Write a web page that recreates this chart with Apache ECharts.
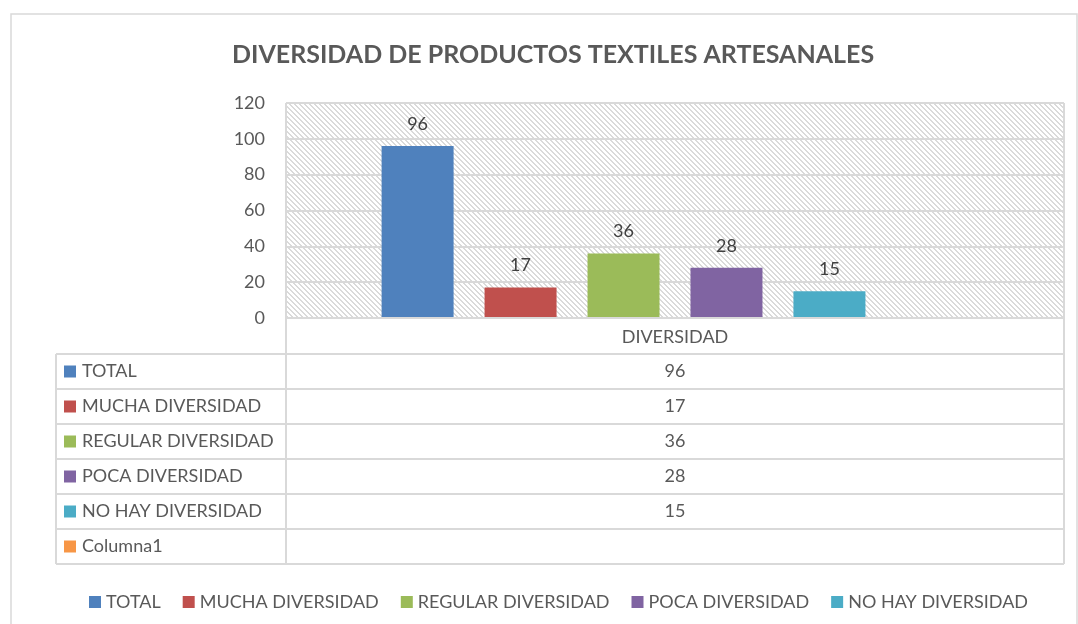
<!DOCTYPE html>
<html>
<head>
    <meta charset="utf-8">
    <title>Diversidad de productos textiles artesanales</title>
    <script src="https://cdn.jsdelivr.net/npm/echarts@6/dist/echarts.min.js"></script>
    <style>
        html, body { margin: 0; padding: 0; background: #fff; }
    </style>
</head>
<body>
    <div id="main" style="width: 1078px;height:624px;"></div>
    <script type="text/javascript">
// datos del grafico
var categorias = ['DIVERSIDAD'];
var series_nombres = ['TOTAL', 'MUCHA DIVERSIDAD', 'REGULAR DIVERSIDAD', 'POCA DIVERSIDAD', 'NO HAY DIVERSIDAD', 'Columna1'];
var valores = [96, 17, 36, 28, 15, null];
var colores = ['#4f81bd', '#c0504d', '#9bbb59', '#8064a2', '#4bacc6', '#f79646'];
var y_ticks = [0, 20, 40, 60, 80, 100, 120];

// geometria (plot area + tabla)
var G = { left: 286, top: 103, right: 1064, bottom: 318 };
var TABLA_TOP = 354, FILA = 35, TABLA_LEFT = 56;
var gris = '#595959';
var linea = '#d9d9d9';
var FS = 18;

// patron de rayas diagonales
function hatch() {
    var c = document.createElement('canvas');
    c.width = 5; c.height = 5;
    var ctx = c.getContext('2d');
    ctx.fillStyle = '#ffffff';
    ctx.fillRect(0, 0, 5, 5);
    ctx.fillStyle = '#dadada';
    for (var i = 0; i < 5; i++) {
        ctx.fillRect(i, i, 1, 1);
        ctx.fillRect((i + 1) % 5, i, 1, 1);
    }
    return c;
}

var myChart = echarts.init(document.getElementById('main'));

// tabla de datos debajo del grafico
var graficos = [];
// marco exterior
graficos.push({ type: 'rect', shape: { x: 11, y: 14, width: 1066, height: 700 },
    style: { fill: 'none', stroke: linea, lineWidth: 1.5 }, z: 0 });
var nFilas = series_nombres.length;
var tablaBottom = TABLA_TOP + FILA * nFilas;
// verticales
graficos.push({ type: 'line', shape: { x1: G.left, y1: G.top, x2: G.left, y2: tablaBottom }, style: { stroke: linea, lineWidth: 2 } });
graficos.push({ type: 'line', shape: { x1: G.right, y1: G.top, x2: G.right, y2: tablaBottom }, style: { stroke: linea, lineWidth: 2 } });
graficos.push({ type: 'line', shape: { x1: TABLA_LEFT, y1: TABLA_TOP, x2: TABLA_LEFT, y2: tablaBottom }, style: { stroke: linea, lineWidth: 2 } });
for (var i = 0; i <= nFilas; i++) {
    var yy = TABLA_TOP + FILA * i;
    graficos.push({ type: 'line', shape: { x1: TABLA_LEFT, y1: yy, x2: G.right, y2: yy }, style: { stroke: linea, lineWidth: 2 } });
}
graficos.push({ type: 'line', shape: { x1: G.left, y1: G.bottom, x2: G.right, y2: G.bottom }, style: { stroke: linea, lineWidth: 2 }, z: 10 });
series_nombres.forEach(function (nombre, i) {
    var cy = TABLA_TOP + FILA * i + FILA / 2;
    graficos.push({ type: 'rect', shape: { x: 64, y: cy - 6, width: 12, height: 12 }, style: { fill: colores[i] } });
    graficos.push({ type: 'text', x: 82, y: cy, style: { text: nombre, fill: gris, font: FS + 'px Lato', textVerticalAlign: 'middle' } });
    if (valores[i] != null) {
        graficos.push({ type: 'text', x: (G.left + G.right) / 2, y: cy, style: { text: String(valores[i]), fill: gris, font: FS + 'px Lato', textAlign: 'center', textVerticalAlign: 'middle' } });
    }
});

var series = series_nombres.map(function (nombre, i) {
    return {
        name: nombre,
        type: 'bar',
        barWidth: 72,
        barGap: '43%',
        data: [valores[i]],
        itemStyle: { color: colores[i] },
        label: {
            show: true,
            position: 'top',
            distance: 13,
            color: '#404040',
            fontSize: FS,
            fontFamily: 'Lato'
        }
    };
});

option = {
    animation: false,
    textStyle: { fontFamily: 'Lato' },
    title: {
        text: 'DIVERSIDAD DE PRODUCTOS TEXTILES ARTESANALES',
        left: 227,
        top: 37,
        textStyle: { color: gris, fontSize: 25, fontWeight: 'bold', fontFamily: 'Lato' }
    },
    legend: {
        data: series_nombres.slice(0, 5),
        left: 84,
        top: 588,
        icon: 'rect',
        itemWidth: 12,
        itemHeight: 12,
        itemGap: 22,
        textStyle: { color: gris, fontSize: FS, fontFamily: 'Lato' }
    },
    grid: {
        left: G.left,
        top: G.top,
        width: G.right - G.left,
        height: G.bottom - G.top,
        show: true,
        borderWidth: 0,
        backgroundColor: { image: hatch(), repeat: 'repeat' }
    },
    xAxis: {
        type: 'category',
        data: categorias,
        axisLine: { show: false },
        axisTick: { show: false },
        axisLabel: { color: gris, fontSize: FS, margin: 10 }
    },
    yAxis: {
        type: 'value',
        min: y_ticks[0],
        max: y_ticks[y_ticks.length - 1],
        interval: 20,
        axisLine: { show: false },
        axisTick: { show: false },
        axisLabel: { color: gris, fontSize: FS, margin: 21 },
        splitLine: { lineStyle: { color: linea, width: 2 } }
    },
    graphic: graficos,
    series: series
};

myChart.setOption(option);
    </script>
</body>
</html>
